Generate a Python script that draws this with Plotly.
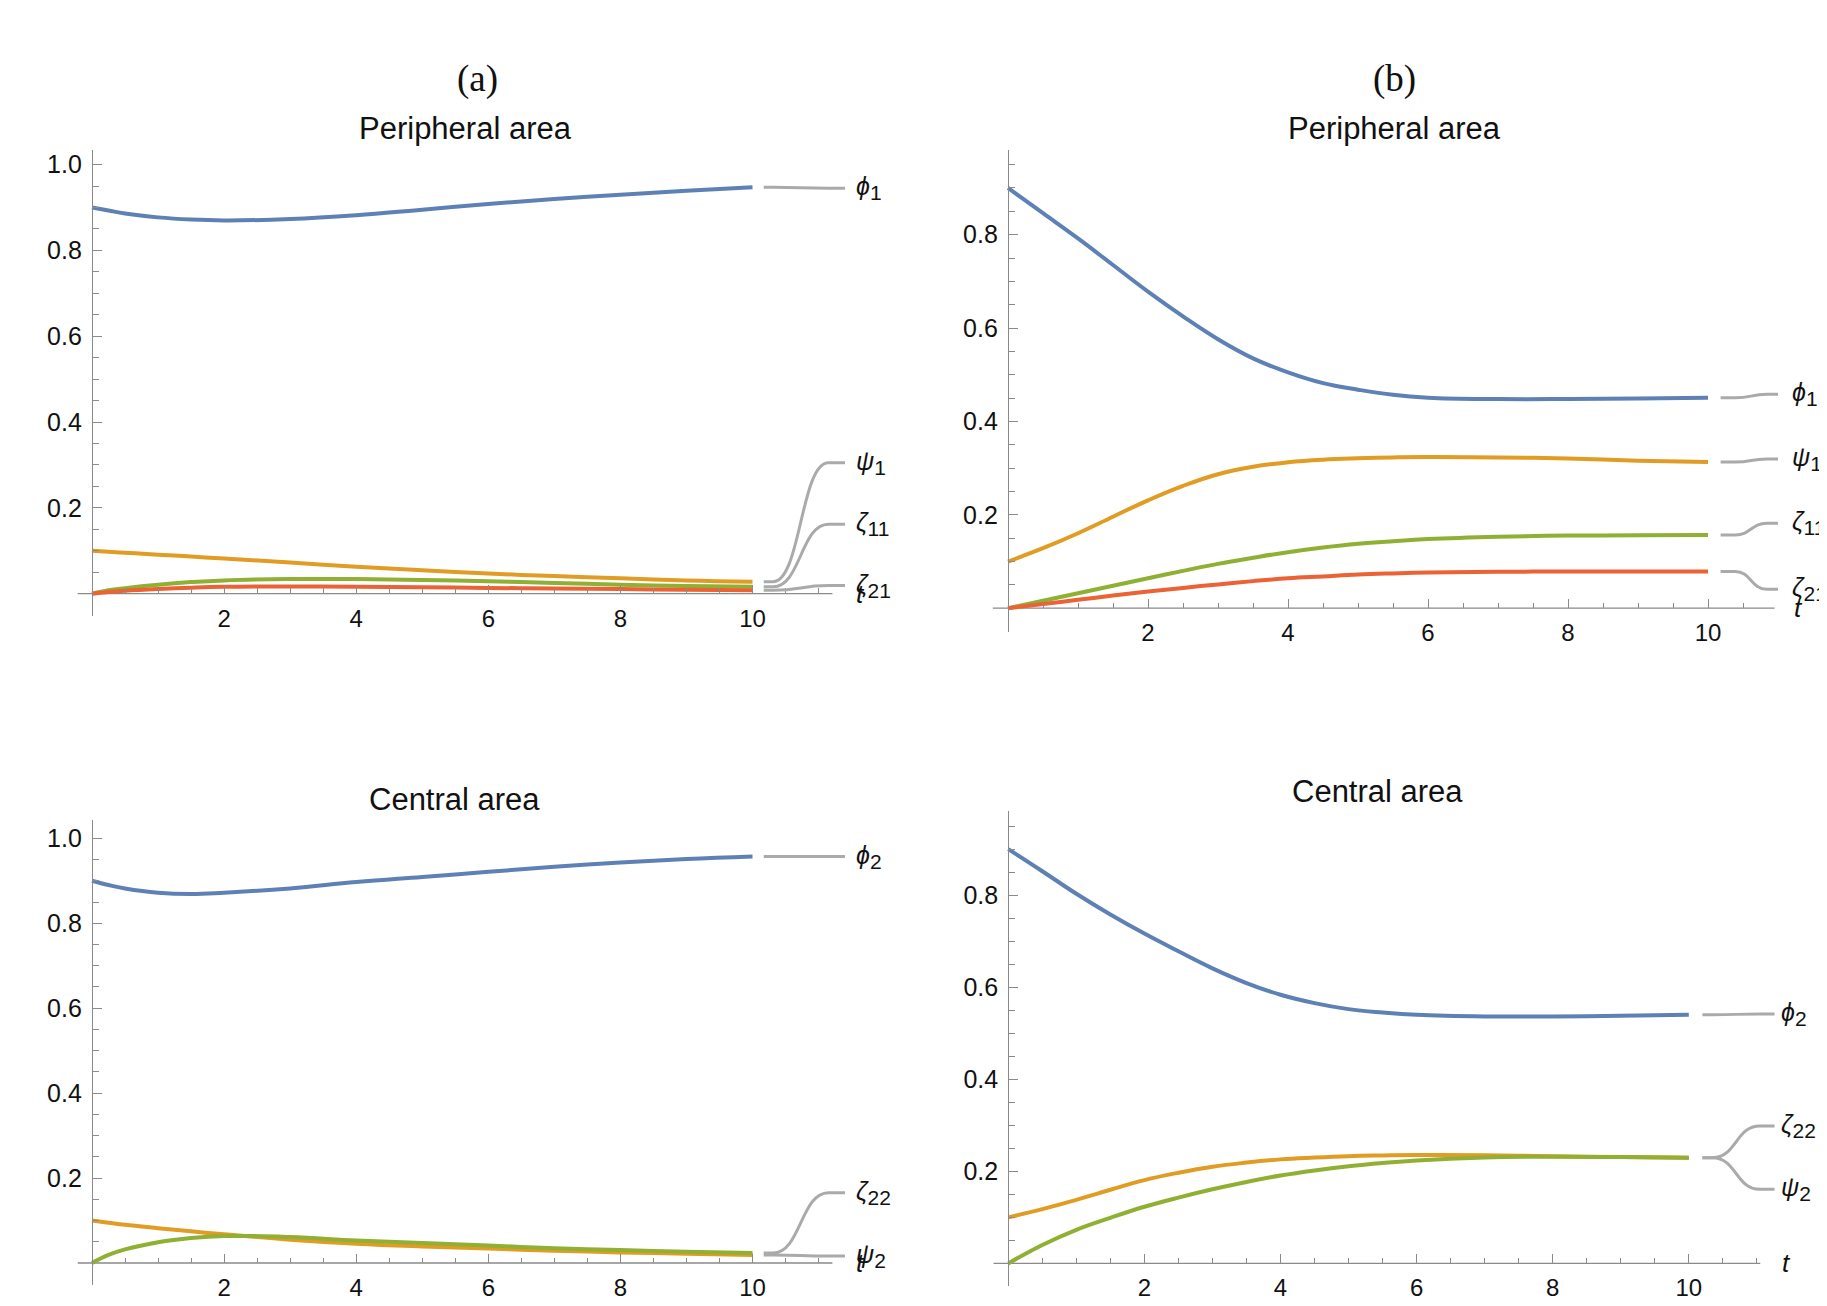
import plotly.graph_objects as go

# ---------------- data ----------------
t_a = [0, 0.25, 0.5, 1, 1.5, 2, 3, 4, 5, 6, 7, 8, 9, 10]
phi1_a = [0.900, 0.893, 0.886, 0.877, 0.872, 0.870, 0.873, 0.882, 0.895, 0.908, 0.920, 0.930, 0.939, 0.947]
psi1_a = [0.100, 0.0978, 0.0955, 0.091, 0.0865, 0.082, 0.0725, 0.063, 0.0545, 0.047, 0.041, 0.036, 0.031, 0.028]
zeta11_a = [0.000, 0.008, 0.013, 0.021, 0.027, 0.031, 0.034, 0.034, 0.032, 0.029, 0.025, 0.021, 0.018, 0.016]
zeta21_a = [0.000, 0.004, 0.007, 0.011, 0.014, 0.016, 0.017, 0.016, 0.015, 0.0135, 0.012, 0.011, 0.009, 0.008]

phi2_a = [0.900, 0.890, 0.882, 0.872, 0.869, 0.872, 0.882, 0.897, 0.909, 0.921, 0.933, 0.943, 0.951, 0.957]
psi2_a = [0.100, 0.095, 0.090, 0.082, 0.0745, 0.0675, 0.055, 0.0455, 0.039, 0.034, 0.029, 0.025, 0.022, 0.019]
zeta22_a = [0.000, 0.019, 0.032, 0.049, 0.059, 0.0636, 0.061, 0.053, 0.047, 0.041, 0.035, 0.0306, 0.0267, 0.0235]

t_b = [0, 0.5, 1, 1.5, 2, 2.5, 3, 3.5, 4, 4.5, 5, 5.5, 6, 7, 8, 9, 10]
phi1_b = [0.900, 0.846, 0.792, 0.735, 0.678, 0.625, 0.576, 0.535, 0.505, 0.482, 0.468, 0.457, 0.451, 0.448, 0.448, 0.449, 0.4505]
psi1_b = [0.100, 0.1285, 0.1606, 0.196, 0.231, 0.262, 0.287, 0.303, 0.3125, 0.318, 0.321, 0.323, 0.324, 0.323, 0.3205, 0.316, 0.313]
zeta11_b = [0.000, 0.016, 0.032, 0.048, 0.064, 0.080, 0.095, 0.108, 0.120, 0.130, 0.138, 0.1435, 0.148, 0.153, 0.1556, 0.156, 0.157]
zeta21_b = [0.000, 0.009, 0.018, 0.027, 0.0357, 0.0435, 0.051, 0.058, 0.064, 0.068, 0.072, 0.0745, 0.0764, 0.078, 0.0785, 0.0785, 0.0785]

phi2_b = [0.900, 0.852, 0.803, 0.758, 0.7165, 0.678, 0.641, 0.609, 0.5836, 0.5655, 0.5524, 0.545, 0.540, 0.5365, 0.5365, 0.538, 0.540]
psi2_b = [0.100, 0.118, 0.138, 0.160, 0.181, 0.197, 0.210, 0.219, 0.226, 0.230, 0.233, 0.2345, 0.2355, 0.235, 0.233, 0.231, 0.2297]
zeta22_b = [0.000, 0.040, 0.073, 0.099, 0.123, 0.143, 0.161, 0.177, 0.191, 0.202, 0.211, 0.218, 0.2236, 0.2300, 0.2318, 0.231, 0.2297]

x_tick_vals = [2, 4, 6, 8, 10]
x_tick_text = ["2", "4", "6", "8", "10"]
y_tick_vals = [0.2, 0.4, 0.6, 0.8, 1.0]
y_tick_text = ["0.2", "0.4", "0.6", "0.8", "1.0"]

panel_letters = ["(a)", "(b)"]
row_titles = ["Peripheral area", "Central area"]

# ---------------- styling ----------------
OFF = 8                      # default page margin around the plot div
W, H = 1827 - OFF, 1306 - OFF
BLUE, ORANGE, GREEN, RED = "#5E81B5", "#E19C24", "#8FB032", "#EB6235"
AXIS_C = "#8a8a8a"
CALL_C = "#aaaaaa"
TXT = "#111111"
LW = 4.0
SANS = "Liberation Sans, Arial, sans-serif"


def lab(greek, idx):
    return f"<i>{greek}</i><sub><span style='font-size:21px'>{idx}</span></sub>"


def pxx(px):   # page pixel x -> paper
    return (px - OFF) / W


def pxy(py):   # page pixel y -> paper
    return 1 - (py - OFF) / H


# panel geometry (page pixels): pixel of t=0, px per unit t, pixel of v=0, px per unit v
panels = [
    dict(name="aP", px0=92.0, ux=66.05, py0=593.7, uy=429.1, xr=[-0.22, 11.5], yr=[-0.053, 1.033],
         xend=11.21, cx=[10.17, 10.31, 11.15, 11.4], lx=11.53, tx=11.63, minor_end=11.0),
    dict(name="aC", px0=92.0, ux=66.05, py0=1263.0, uy=424.7, xr=[-0.22, 11.5], yr=[-0.052, 1.044],
         xend=11.21, cx=[10.17, 10.31, 11.15, 11.4], lx=11.53, tx=11.63, minor_end=11.0),
    dict(name="bP", px0=1008.0, ux=70.0, py0=608.2, uy=466.9, xr=[-0.22, 11.0], yr=[-0.051, 0.981],
         xend=10.95, cx=[10.18, 10.39, 10.84, 11.12], lx=11.17, tx=11.29, minor_end=10.5),
    dict(name="bC", px0=1008.3, ux=68.05, py0=1263.4, uy=460.3, xr=[-0.22, 11.3], yr=[-0.049, 0.983],
         xend=11.05, cx=[10.2, 10.35, 11.04, 11.26], lx=11.33, tx=11.44, minor_end=11.0),
]

series = {
    "aP": [(t_a, phi1_a, BLUE, lab("ϕ", 1), 0.945),
           (t_a, psi1_a, ORANGE, lab("ψ", 1), 0.305),
           (t_a, zeta11_a, GREEN, lab("ζ", 11), 0.162),
           (t_a, zeta21_a, RED, lab("ζ", 21), 0.019)],
    "aC": [(t_a, phi2_a, BLUE, lab("ϕ", 2), 0.957),
           (t_a, psi2_a, ORANGE, lab("ψ", 2), 0.0165),
           (t_a, zeta22_a, GREEN, lab("ζ", 22), 0.1655)],
    "bP": [(t_b, phi1_b, BLUE, lab("ϕ", 1), 0.458),
           (t_b, psi1_b, ORANGE, lab("ψ", 1), 0.3196),
           (t_b, zeta11_b, GREEN, lab("ζ", 11), 0.182),
           (t_b, zeta21_b, RED, lab("ζ", 21), 0.0405)],
    "bC": [(t_b, phi2_b, BLUE, lab("ϕ", 2), 0.542),
           (t_b, psi2_b, ORANGE, lab("ψ", 2), 0.161),
           (t_b, zeta22_b, GREEN, lab("ζ", 22), 0.2985)],
}

fig = go.Figure()
shapes, annotations = [], []
layout = dict(width=W, height=H, margin=dict(l=0, r=0, t=0, b=0),
              paper_bgcolor="white", plot_bgcolor="white", showlegend=False,
              font=dict(family=SANS, color=TXT))

for i, p in enumerate(panels):
    n = i + 1
    xa = "x" if n == 1 else f"x{n}"
    ya = "y" if n == 1 else f"y{n}"
    xl = "xaxis" if n == 1 else f"xaxis{n}"
    yl = "yaxis" if n == 1 else f"yaxis{n}"
    left = p["px0"] + p["ux"] * p["xr"][0]
    right = p["px0"] + p["ux"] * p["xr"][1]
    top = p["py0"] - p["uy"] * p["yr"][1]
    bottom = p["py0"] - p["uy"] * p["yr"][0]
    xdom = [pxx(left), pxx(right)]
    ydom = [pxy(bottom), pxy(top)]
    xpos = pxy(p["py0"])
    ypos = pxx(p["px0"])

    def dx(x, p=p):
        return pxx(p["px0"] + p["ux"] * x)

    def dy(v, p=p):
        return pxy(p["py0"] - p["uy"] * v)

    xminor = [k * 0.5 for k in range(1, int(round(p["minor_end"] * 2)) + 1) if (k * 0.5) not in x_tick_vals]
    ymax = p["yr"][1]
    yminor = [round(k * 0.05, 2) for k in range(1, int(ymax / 0.05) + 1)
              if round(k * 0.05, 2) not in y_tick_vals]

    layout[xl] = dict(domain=xdom, range=p["xr"], anchor="free", position=xpos,
                      showline=False, showgrid=False, zeroline=False,
                      tickmode="array", tickvals=x_tick_vals, ticktext=x_tick_text,
                      ticks="inside", ticklen=9, tickwidth=1.2, tickcolor=AXIS_C,
                      ticklabelstandoff=8,
                      tickfont=dict(size=24, color=TXT),
                      minor=dict(tickmode="array", tickvals=xminor, ticks="inside",
                                 ticklen=5.5, tickwidth=1.1, tickcolor=AXIS_C, showgrid=False))
    layout[yl] = dict(domain=ydom, range=p["yr"], anchor="free", position=ypos,
                      showline=True, linecolor=AXIS_C, linewidth=1.3,
                      showgrid=False, zeroline=False,
                      tickmode="array", tickvals=y_tick_vals, ticktext=y_tick_text,
                      ticks="inside", ticklen=9, tickwidth=1.2, tickcolor=AXIS_C,
                      ticklabelstandoff=5,
                      tickfont=dict(size=25, color=TXT),
                      minor=dict(tickmode="array", tickvals=yminor, ticks="inside",
                                 ticklen=5.5, tickwidth=1.1, tickcolor=AXIS_C, showgrid=False))

    # x-axis line through v = 0, ending where the reference ends it
    shapes.append(dict(type="line", xref=xa, yref=ya, x0=p["xr"][0], x1=p["xend"], y0=0, y1=0,
                       line=dict(color=AXIS_C, width=1.3), layer="below"))

    x0, x1, x2, x3 = p["cx"]
    xm = (x1 + x2) / 2
    for (tt, vv, col, text, ly) in series[p["name"]]:
        fig.add_trace(go.Scatter(x=tt, y=vv, mode="lines", xaxis=xa, yaxis=ya,
                                 line=dict(color=col, width=LW, shape="spline", smoothing=1.2),
                                 hoverinfo="skip"))
        y0 = vv[-1]
        path = f"M {x0},{y0} L {x1},{y0} C {xm},{y0} {xm},{ly} {x2},{ly} L {x3},{ly}"
        shapes.append(dict(type="path", xref=xa, yref=ya, path=path,
                           line=dict(color=CALL_C, width=3.0)))
        annotations.append(dict(xref="paper", yref="paper", x=dx(p["lx"]), y=dy(ly), text=text,
                                showarrow=False, xanchor="left", yanchor="middle",
                                font=dict(size=25, color=TXT, family=SANS)))
    # axis label t
    annotations.append(dict(xref="paper", yref="paper", x=dx(p["tx"]), y=dy(0), text="<i>t</i>",
                            showarrow=False, xanchor="center", yanchor="middle",
                            font=dict(size=26, color=TXT, family=SANS)))

# panel letters and titles (page pixel positions converted to paper)
for j, (cx, cy) in enumerate([(477.6, 78.5), (1394.7, 78.5)]):
    annotations.append(dict(xref="paper", yref="paper", x=pxx(cx), y=pxy(cy), text=panel_letters[j],
                            showarrow=False, xanchor="center", yanchor="middle",
                            font=dict(size=37, color=TXT, family="Liberation Serif, Times New Roman, serif")))
for (cx, cy, k) in [(466, 129, 0), (1394, 129, 0), (454, 799, 1), (1377, 791, 1)]:
    annotations.append(dict(xref="paper", yref="paper", x=pxx(cx), y=pxy(cy), text=row_titles[k],
                            showarrow=False, xanchor="center", yanchor="middle",
                            font=dict(size=31, color=TXT, family=SANS)))

layout["shapes"] = shapes
layout["annotations"] = annotations
fig.update_layout(**layout)
fig.write_html("out.html")
